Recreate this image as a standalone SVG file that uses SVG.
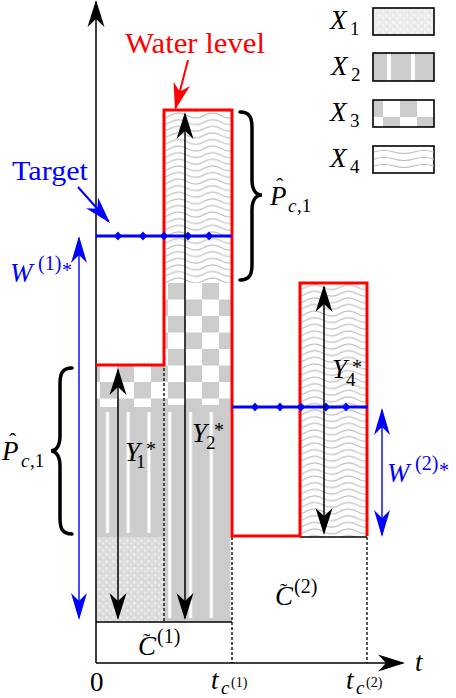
<svg xmlns="http://www.w3.org/2000/svg" width="456" height="698" viewBox="0 0 456 698">
<style>
.m{font-family:"Liberation Serif","DejaVu Serif","Times New Roman",serif;font-style:italic;font-size:27px;fill:#000}
.t{font-family:"Liberation Serif","DejaVu Serif","Times New Roman",serif}
.n{font-style:normal}
.sub{font-size:19px}
.sup{font-size:20px;font-style:normal}
.acc{font-size:22px;font-style:normal}
.ax{stroke:#000;stroke-width:1.5;fill:none}
.dash{stroke:#000;stroke-width:1.3;stroke-dasharray:3 2;fill:none}
.red{stroke:#f00;stroke-width:3;fill:none}
.blue{stroke:#00f;stroke-width:3;fill:none}
.arr{stroke:#000;stroke-width:1.5;fill:none}
.barr{stroke:#00f;stroke-width:1.4;fill:none}
.brace{stroke:#000;stroke-width:3.5;fill:none;stroke-linecap:round}
.lg{stroke:#000;stroke-width:1.6}
.wl{stroke:#bdbdbd;stroke-width:1.1;fill:none}
</style>
<defs>
<marker id="ak" viewBox="-30 -10 32 20" refX="-2" refY="0" markerWidth="32" markerHeight="20" markerUnits="userSpaceOnUse" orient="auto-start-reverse"><path d="M0,0 L-27,-8.5 L-19,0 L-27,8.5Z" fill="#000"/></marker>
<marker id="ab" viewBox="-30 -10 32 20" refX="-2" refY="0" markerWidth="32" markerHeight="20" markerUnits="userSpaceOnUse" orient="auto-start-reverse"><path d="M0,0 L-27,-8 L-19,0 L-27,8Z" fill="#00f"/></marker>
<marker id="ar" viewBox="-30 -10 32 20" refX="-2" refY="0" markerWidth="32" markerHeight="20" markerUnits="userSpaceOnUse" orient="auto"><path d="M0,0 L-27,-8.5 L-19,0 L-27,8.5Z" fill="#f00"/></marker>
<pattern id="x1" patternUnits="userSpaceOnUse" x="0" y="0" width="7" height="7"><rect width="7" height="7" fill="#dcdcdc"/><circle cx="1.5" cy="1.5" r="1.3" fill="#efefef"/><circle cx="5" cy="4.5" r="1.2" fill="#ebebeb"/><circle cx="2.5" cy="5.6" r="0.8" fill="#cfcfcf"/></pattern>
<pattern id="x1l" patternUnits="userSpaceOnUse" x="0" y="0" width="7" height="7"><rect width="7" height="7" fill="#ebebeb"/><circle cx="1.5" cy="1.5" r="1.3" fill="#f7f7f7"/><circle cx="5" cy="4.5" r="1.2" fill="#f5f5f5"/><circle cx="2.5" cy="5.6" r="0.8" fill="#e0e0e0"/></pattern>
<pattern id="x2" patternUnits="userSpaceOnUse" x="0" y="0" width="20.75" height="100"><rect x="2.25" y="0" width="3" height="100" fill="#fff"/></pattern>
<pattern id="x3" patternUnits="userSpaceOnUse" x="168" y="283" width="34" height="33"><rect x="0" y="0" width="17" height="16.5" fill="#ccc"/><rect x="17" y="16.5" width="17" height="16.5" fill="#ccc"/></pattern>
<pattern id="x3l" patternUnits="userSpaceOnUse" x="366" y="100" width="34" height="34"><rect x="0" y="0" width="17" height="17" fill="#ccc"/><rect x="17" y="17" width="17" height="17" fill="#ccc"/></pattern>
<pattern id="x4" patternUnits="userSpaceOnUse" x="0" y="0" width="34" height="6.6"><path class="wl" d="M0,3.3 C5.7,0 11.3,0 17,3.3 S28.3,6.6 34,3.3"/></pattern>
<path id="dm" d="M0,-4.5L4,0L0,4.5L-4,0Z" fill="#00f"/>
</defs>

<g id="column-1">
<rect x="96" y="366" width="68" height="41" fill="url(#x3)"/>
<rect x="96" y="407" width="68" height="130" fill="#ccc"/>
<rect x="96" y="412" width="68" height="121" fill="url(#x2)"/>
<rect x="96" y="537" width="68" height="85" fill="url(#x1)"/>
</g>
<g id="column-2">
<rect x="164" y="110" width="68" height="173" fill="url(#x4)"/>
<rect x="164" y="283" width="68" height="122" fill="url(#x3)"/>
<rect x="164" y="405" width="68" height="217" fill="#ccc"/>
<rect x="164" y="412" width="68" height="206" fill="url(#x2)"/>
</g>
<g id="column-4">
<rect x="300" y="283" width="67" height="254" fill="url(#x4)"/>
<line class="ax" x1="300" y1="537" x2="367" y2="537"/>
</g>

<g id="axes">
<line class="ax" x1="96" y1="663" x2="96" y2="2" marker-end="url(#ak)"/>
<line class="ax" x1="96" y1="663" x2="403" y2="663" marker-end="url(#ak)"/>
<line class="ax" x1="96" y1="622" x2="232" y2="622"/>
<line class="dash" x1="164" y1="368" x2="164" y2="622"/>
<line class="dash" x1="232" y1="537" x2="232" y2="663"/>
<line class="dash" x1="367" y1="537" x2="367" y2="663"/>
<text class="m" x="415" y="671">t</text>
<text class="m n" x="90" y="691">0</text>
<text class="m" x="211" y="689">t<tspan class="sub" x="221" y="694">c</tspan><tspan class="n" font-size="14" x="231" y="687">(1)</tspan></text>
<text class="m" x="346" y="689">t<tspan class="sub" x="356" y="694">c</tspan><tspan class="n" font-size="14" x="366" y="687">(2)</tspan></text>
</g>

<g id="water-level">
<polyline class="red" points="96,365 164,365 164,110 232,110 232,536 300,536 300,283 367,283 367,536"/>
</g>

<g id="target">
<line class="blue" x1="96" y1="236" x2="232" y2="236"/>
<line class="blue" x1="232" y1="407" x2="368" y2="407"/>
<use href="#dm" x="118" y="236"/><use href="#dm" x="143" y="236"/><use href="#dm" x="164" y="236"/><use href="#dm" x="188" y="236"/><use href="#dm" x="209" y="236"/>
<use href="#dm" x="255" y="407"/><use href="#dm" x="280" y="407"/><use href="#dm" x="301" y="407"/><use href="#dm" x="326" y="407"/><use href="#dm" x="346" y="407"/>
</g>

<g id="connectors">
<line class="arr" x1="118" y1="370" x2="118" y2="618" marker-start="url(#ak)" marker-end="url(#ak)"/>
<line class="arr" x1="185" y1="114" x2="185" y2="618" marker-start="url(#ak)" marker-end="url(#ak)"/>
<line class="arr" x1="324" y1="287" x2="324" y2="533" marker-start="url(#ak)" marker-end="url(#ak)"/>
<line class="barr" x1="79" y1="238" x2="79" y2="618" marker-start="url(#ab)" marker-end="url(#ab)"/>
<line class="barr" x1="382" y1="410" x2="382" y2="535" marker-start="url(#ab)" marker-end="url(#ab)"/>
<line stroke="#f00" stroke-width="2" x1="188" y1="60" x2="175.5" y2="108.1" marker-end="url(#ar)"/>
<line stroke="#00f" stroke-width="2" x1="78" y1="187" x2="108.7" y2="221.5" marker-end="url(#ab)"/>
<path class="brace" d="M72,368 C62,368 60,374 60,384 L60,436 C60,446 56,451 51,451 C56,451 60,456 60,466 L60,518 C60,528 62,534 72,534"/>
<path class="brace" d="M240,112 C250,112 252,118 252,128 L252,180 C252,190 256,195 262,195 C256,195 252,200 252,210 L252,264 C252,274 250,280 240,280"/>
</g>

<g id="labels">
<text class="t" x="125" y="53" font-size="29" fill="#f00" textLength="140" lengthAdjust="spacingAndGlyphs">Water level</text>
<text class="t" x="12" y="180" font-size="27" fill="#00f" textLength="76" lengthAdjust="spacingAndGlyphs">Target</text>
<text class="m" x="10" y="282" style="fill:#00f">W<tspan class="sup" x="38" y="270">(1)</tspan><tspan class="sup" x="62" y="277">*</tspan></text>
<text class="m" x="387" y="482" style="fill:#00f">W<tspan class="sup" x="415" y="470">(2)</tspan><tspan class="sup" x="439" y="477">*</tspan></text>
<text class="m" x="125" y="461">Y<tspan class="sub n" x="136" y="468">1</tspan><tspan class="sup" x="146" y="456">*</tspan></text>
<text class="m" x="192" y="442">Y<tspan class="sub n" x="206" y="449">2</tspan><tspan class="sup" x="214" y="437">*</tspan></text>
<text class="m" x="332" y="378">Y<tspan class="sub n" x="346" y="386">4</tspan><tspan class="sup" x="352" y="374">*</tspan></text>
<text class="m" x="2" y="460">P<tspan class="acc" x="9" y="448">ˆ</tspan><tspan class="sub" x="21" y="467">c</tspan><tspan class="sub n" x="30" y="467">,1</tspan></text>
<text class="m" x="270" y="205">P<tspan class="acc" x="276" y="193">ˆ</tspan><tspan class="sub" x="288" y="212">c</tspan><tspan class="sub n" x="297" y="212">,1</tspan></text>
<text class="m" x="138" y="655">C<tspan class="acc" x="143" y="648">˜</tspan><tspan class="sup" x="157" y="643">(1)</tspan></text>
<text class="m" x="275" y="605">C<tspan class="acc" x="280" y="598">˜</tspan><tspan class="sup" x="294" y="593">(2)</tspan></text>
</g>

<g id="legend-X1">
<rect class="lg" x="373" y="8" width="61" height="27" fill="url(#x1l)"/>
<text class="m" x="330" y="29">X<tspan class="sub n" x="350" y="35">1</tspan></text>
</g>
<g id="legend-X2">
<rect x="373" y="53" width="61" height="28" fill="#ccc"/>
<rect x="387" y="53" width="4" height="28" fill="#fff"/>
<rect x="411" y="53" width="4" height="28" fill="#fff"/>
<rect class="lg" x="373" y="53" width="61" height="28" fill="none"/>
<text class="m" x="331" y="75">X<tspan class="sub n" x="351" y="81">2</tspan></text>
</g>
<g id="legend-X3">
<rect class="lg" x="373" y="100" width="61" height="27" fill="url(#x3l)"/>
<text class="m" x="330" y="121">X<tspan class="sub n" x="350" y="127">3</tspan></text>
</g>
<g id="legend-X4">
<rect class="lg" x="373" y="146" width="61" height="27" fill="#fff"/>
<path class="wl" d="M374,152 q10,-3 20,0 t20,0 t20,0"/>
<path class="wl" d="M374,159 q10,-3 20,0 t20,0 t20,0"/>
<path class="wl" d="M374,166 q10,-3 20,0 t20,0 t20,0"/>
<text class="m" x="330" y="167">X<tspan class="sub n" x="350" y="173">4</tspan></text>
</g>
</svg>
